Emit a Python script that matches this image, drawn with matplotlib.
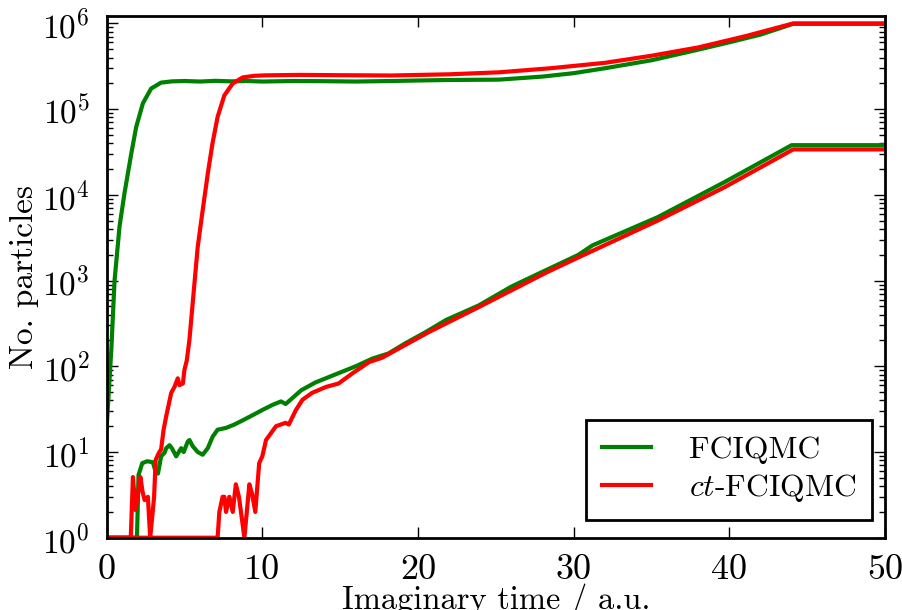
import matplotlib
matplotlib.use("Agg")
import matplotlib.pyplot as plt

# FCIQMC: total walker population
t_fci_tot = [0, 0.3, 0.51, 0.83, 1.15, 1.58, 1.9, 2.33, 2.86, 3.5, 4.2, 5, 6, 7, 8, 9, 10, 12, 14,
             16, 18.3, 20, 22, 25.2, 28, 30, 32, 35, 37.8, 40, 42, 44.1, 50]
n_fci_tot = [19, 155, 1000, 4300, 10500, 30000, 62000, 117000, 174000, 204000, 211000, 213000,
             210000, 214000, 211000, 213000, 210000, 213000, 212000, 210000, 213000, 216000,
             219000, 221000, 240000, 263000, 300000, 372000, 485000, 603000, 741000, 990000, 990000]

# FCIQMC: lower curve
t_fci_low = [0, 1.95, 2.05, 2.29, 2.6, 2.97, 3.1, 3.3, 3.5, 3.72, 3.83, 4.04, 4.2, 4.47, 4.79, 4.95,
             5.21, 5.32, 5.53, 5.85, 6.17, 6.5, 6.81, 7.13, 7.67, 8.2, 8.74, 9.38, 10.0, 10.66, 11.2,
             11.5, 11.94, 12.5, 13.4, 14.9, 16.0, 17.07, 18.1, 19.2, 20.5, 21.8, 23.9, 26.0, 28.2,
             30.3, 31.2, 35.4, 39.7, 44.0, 50]
n_fci_low = [1, 1, 5.4, 7.4, 7.8, 7.6, 6.3, 5.6, 8.9, 9.8, 11.1, 12.0, 11.0, 8.9, 11.1, 10.0,
             13.2, 13.8, 11.7, 10.0, 9.3, 11.1, 15.1, 18.2, 19.1, 20.9, 23.4, 26.9, 30.9, 35.5, 38.9,
             36.3, 42.7, 52.5, 64.6, 83.2, 100, 123, 141, 186, 251, 347, 513, 851, 1318,
             1995, 2570, 5495, 14125, 38000, 38000]

# ct-FCIQMC: total walker population
t_ct_tot = [0, 1.55, 1.69, 1.86, 2.17, 2.3, 2.44, 2.65, 2.8, 2.97, 3.05, 3.15, 3.36, 3.5, 3.66, 3.83,
            4.15, 4.36, 4.57, 4.68, 4.9, 5.0, 5.15, 5.32, 5.53, 5.85, 6.17, 6.5, 6.8, 7.13, 7.56,
            8.1, 8.74, 9.5, 10.2, 12.4, 15, 18.3, 22, 25.2, 28.5, 32, 35, 38, 41, 44.1, 50]
n_ct_tot = [1, 1, 5.1, 2.1, 5.1, 3.5, 2.75, 3.0, 1, 2.1, 3.0, 8.1, 9.8, 10.7, 18.2, 26.3,
            49, 57.5, 72.4, 60.3, 63.1, 91.2, 117, 204, 550, 2455, 6607, 17783, 39811, 81283, 144544,
            199526, 234423, 245000, 248000, 251000, 249000, 247000, 255000, 269000, 300000, 347000,
            420000, 525000, 708000, 1000000, 1000000]

# ct-FCIQMC: lower curve
t_ct_low = [0, 7.13, 7.24, 7.45, 7.56, 7.67, 7.88, 8.1, 8.3, 8.5, 8.85, 9.17, 9.35, 9.55, 9.8, 10.0,
            10.24, 10.88, 11.5, 11.7, 12.16, 12.58, 13.2, 14.1, 14.9, 15.8, 16.86, 17.7, 19.2, 20.7,
            23.9, 28.2, 30.3, 35.4, 39.7, 44.1, 50]
n_ct_low = [1, 1, 2.0, 3.0, 3.0, 2.0, 3.0, 2.0, 4.2, 3.0, 1, 4.2, 3.2, 2.0, 7.4, 8.9,
            13.8, 20.0, 21.9, 20.9, 30.9, 40.7, 49.0, 57.5, 63.0, 83.0, 112, 126, 178, 251,
            490, 1230, 1862, 5012, 12300, 33900, 33900]

xticks = [0, 10, 20, 30, 40, 50]

plt.rcParams.update({
    "font.family": "serif",
    "font.serif": ["cmr10"],
    "mathtext.fontset": "cm",
    "axes.formatter.use_mathtext": True,
    "font.size": 12,
    "xtick.labelsize": 13,
    "ytick.labelsize": 12,
    "axes.linewidth": 1.0,
    "xtick.direction": "in",
    "ytick.direction": "in",
    "xtick.top": True,
    "ytick.right": True,
    "xtick.major.size": 4,
    "ytick.major.size": 4,
    "xtick.minor.size": 2,
    "ytick.minor.size": 2,
    "xtick.major.pad": 6,
    "ytick.major.pad": 6,
    "xtick.major.width": 0.5,
    "ytick.major.width": 0.5,
    "xtick.minor.width": 0.5,
    "ytick.minor.width": 0.5,
})

fig = plt.figure(figsize=(4.51, 3.05), dpi=200)
ax = fig.add_axes([0.1182, 0.1185, 0.863, 0.8557])

green = (0, 0.5, 0)
red = (1, 0, 0)
lw = 1.5
ax.plot(t_fci_tot, n_fci_tot, color=green, lw=lw, label="FCIQMC")
ax.plot(t_fci_low, n_fci_low, color=green, lw=lw)
ax.plot(t_ct_tot, n_ct_tot, color=red, lw=lw, label=r"$ct$-FCIQMC")
ax.plot(t_ct_low, n_ct_low, color=red, lw=lw)

ax.set_yscale("log")
ax.set_xlim(0, 50)
ax.set_ylim(1, 1.23e6)
ax.set_xticks(xticks)
ax.set_xticklabels([str(v) for v in xticks])
ax.set_xlabel("Imaginary time / a.u.", fontsize=11.7, labelpad=-1.0)
ax.set_ylabel("No. particles", fontsize=12, labelpad=1.0)

leg = ax.legend(loc="lower right", bbox_to_anchor=(0.9833, 0.0339), fontsize=11.4,
                fancybox=False, framealpha=1, edgecolor="black",
                handlelength=1.55, borderpad=0.5, labelspacing=0.25, handletextpad=1.2,
                borderaxespad=0.0)
leg.get_frame().set_linewidth(1.0)

fig.savefig("out.png", dpi=200)
